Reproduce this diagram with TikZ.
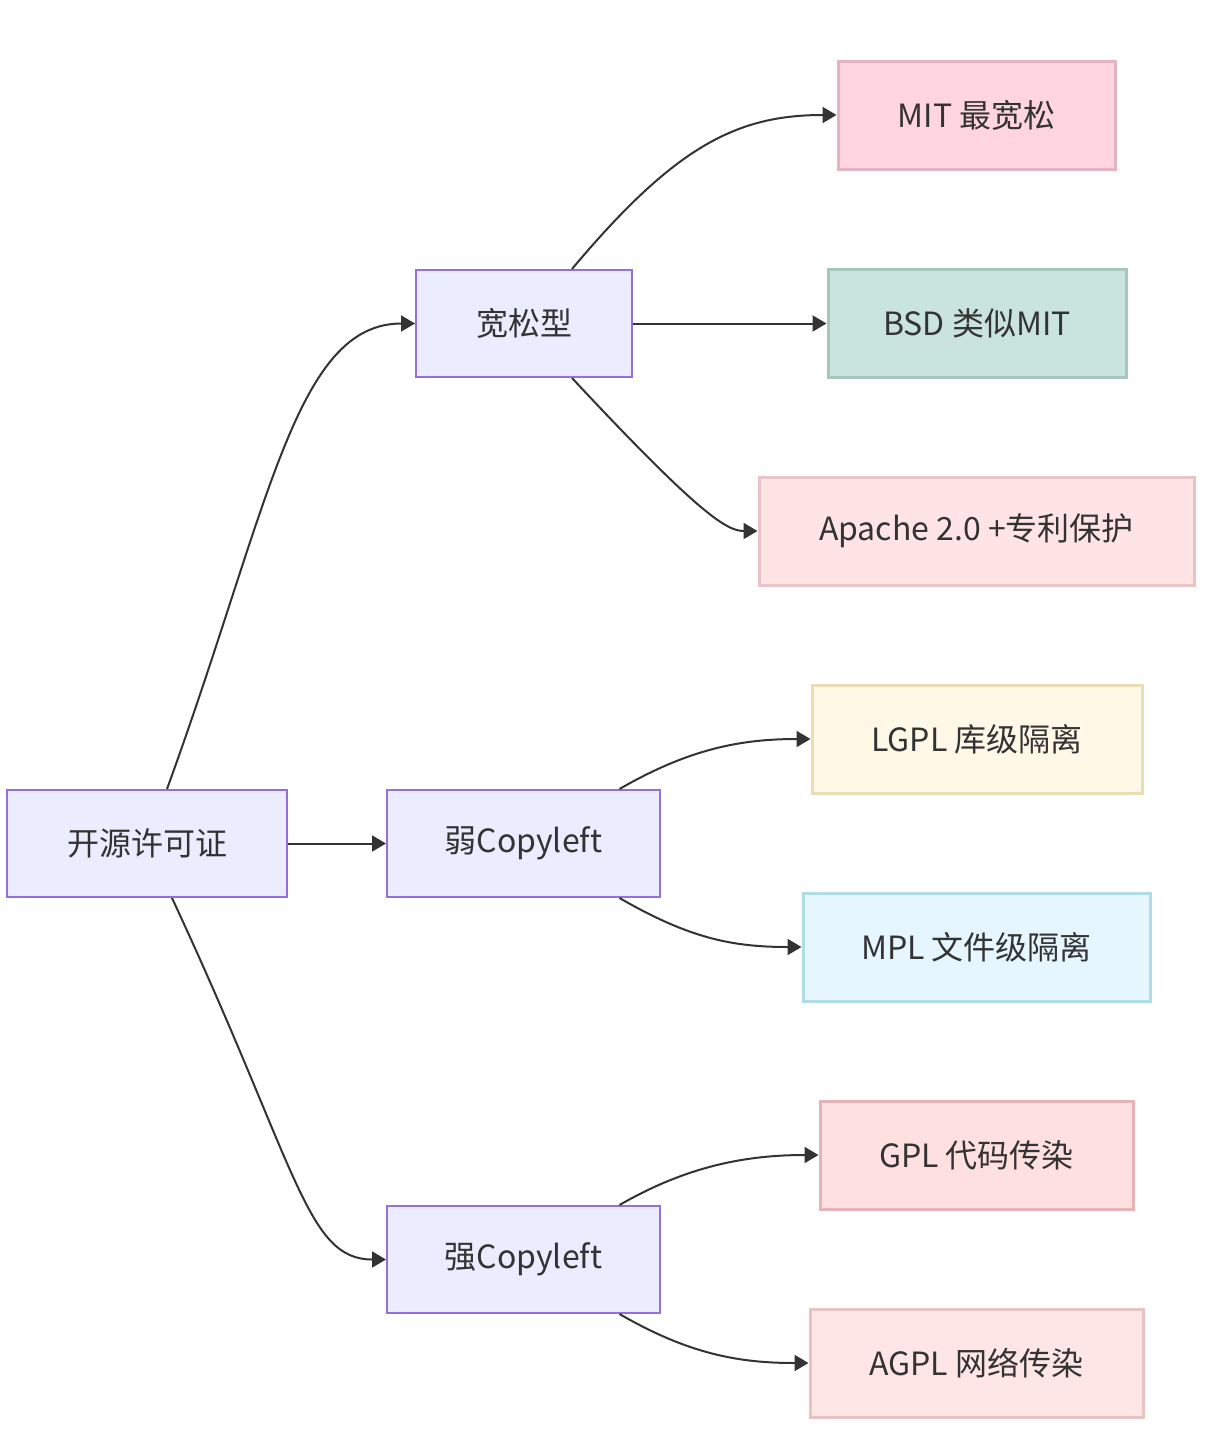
\documentclass[tikz,border=0pt]{standalone}
\usepackage{fontspec}
\setmainfont{Noto Sans CJK SC}
\usetikzlibrary{arrows.meta,positioning}
\definecolor{ink}{HTML}{333333}
\definecolor{lav}{HTML}{ECECFF}
\definecolor{lavline}{HTML}{9370DB}
\definecolor{mitfill}{HTML}{FFD6E0}
\definecolor{mitline}{HTML}{E6B3C4}
\definecolor{bsdfill}{HTML}{C9E4DE}
\definecolor{bsdline}{HTML}{A5C8BC}
\definecolor{apafill}{HTML}{FFE4E6}
\definecolor{apaline}{HTML}{E8C4C8}
\definecolor{lgplfill}{HTML}{FFF8E6}
\definecolor{lgplline}{HTML}{E8DDB5}
\definecolor{mplfill}{HTML}{E6F6FF}
\definecolor{mplline}{HTML}{B0DCE6}
\definecolor{gplfill}{HTML}{FFE0E0}
\definecolor{gplline}{HTML}{E6B3B8}
\definecolor{agplfill}{HTML}{FFE6E6}
\definecolor{agplline}{HTML}{E6C4C4}
\tikzset{
  cat/.style={
    rectangle, draw=lavline, fill=lav, line width=1pt, align=center,
    inner sep=0pt, minimum height=53.5pt, text=ink,
    font=\fontsize{16}{19}\selectfont
  },
  lic/.style={
    cat, line width=1.5pt, minimum height=54pt
  },
  edge/.style={-{Triangle[length=7pt,width=8pt]}, line width=1pt, draw=ink}
}
\begin{document}
\begin{tikzpicture}[x=0.5pt, y=-0.5pt]
\useasboundingbox (0,0) rectangle (1214,1456);
\node[cat, minimum width=140pt] (root) at (147,843.5) {开源许可证};
\node[cat, minimum width=108pt] (loose) at (524,323.5) {宽松型};
\node[cat, minimum width=136.5pt] (weak) at (523.5,843.5) {弱Copyleft};
\node[cat, minimum width=136.5pt] (strong) at (523.5,1259.5) {强Copyleft};
\node[lic, fill=mitfill, draw=mitline, minimum width=138.5pt] (mit) at (976.5,115) {MIT 最宽松};
\node[lic, fill=bsdfill, draw=bsdline, minimum width=149pt] (bsd) at (977,323.5) {BSD 类似MIT};
\node[lic, fill=apafill, draw=apaline, minimum width=217.5pt] (apache) at (976.5,531) {Apache 2.0 +专利保护};
\node[lic, fill=lgplfill, draw=lgplline, minimum width=165pt] (lgpl) at (977,739) {LGPL 库级隔离};
\node[lic, fill=mplfill, draw=mplline, minimum width=173.5pt] (mpl) at (976.5,947) {MPL 文件级隔离};
\node[lic, fill=gplfill, draw=gplline, minimum width=156.5pt] (gpl) at (976.5,1155) {GPL 代码传染};
\node[lic, fill=agplfill, draw=agplline, minimum width=166.5pt] (agpl) at (976.5,1363) {AGPL 网络传染};
% root to categories
\draw[edge] ([xshift=10pt]root.north) .. controls +(70:150pt) and +(180:60pt) .. (loose.west);
\draw[edge] (root.east) -- (weak.west);
\draw[edge] ([xshift=12.5pt]root.south) .. controls +(-65:150pt) and +(180:40pt) .. (strong.west);
% permissive
\draw[edge] ([xshift=24pt]loose.north) .. controls +(50:80pt) and +(180:50pt) .. (mit.west);
\draw[edge] (loose.east) -- (bsd.west);
\draw[edge] ([xshift=24pt]loose.south) .. controls +(-47:95pt) and +(180:15pt) .. (apache.west);
% weak copyleft
\draw[edge] ([xshift=48pt]weak.north) .. controls +(30:40pt) and +(180:35pt) .. (lgpl.west);
\draw[edge] ([xshift=48pt]weak.south) .. controls +(-30:40pt) and +(180:35pt) .. (mpl.west);
% strong copyleft
\draw[edge] ([xshift=48pt]strong.north) .. controls +(30:40pt) and +(180:35pt) .. (gpl.west);
\draw[edge] ([xshift=48pt]strong.south) .. controls +(-30:40pt) and +(180:35pt) .. (agpl.west);
\end{tikzpicture}
\end{document}
